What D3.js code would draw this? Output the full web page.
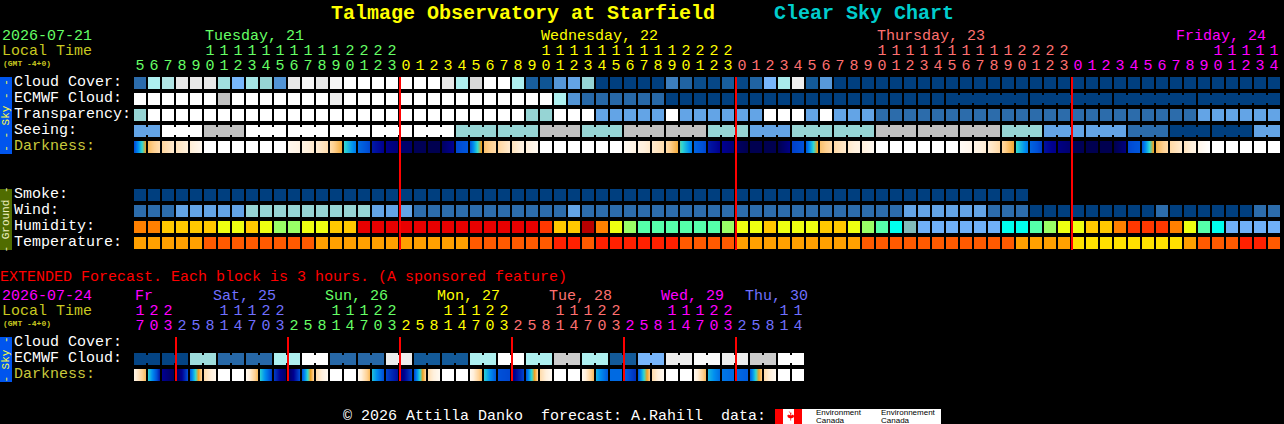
<!DOCTYPE html>
<html>
<head>
<meta charset="utf-8">
<title>Talmage Observatory at Starfield Clear Sky Chart</title>
<script src="https://cdnjs.cloudflare.com/ajax/libs/d3/7.8.5/d3.min.js"></script>
<style>
  html, body { margin: 0; background: #000; overflow: hidden; }
  svg { display: block; }
  text { font-family: "Liberation Mono", monospace; font-size: 15px; white-space: pre; }
  rect { shape-rendering: crispEdges; }
</style>
</head>
<body>
<div id="chart"></div>
<script>
// Widths and height
const WIDTH = 1284;
const HEIGHT = 424;
const STEP = 14;
const LEFT = 134;
const CELL = 12;

// Forecast hours
const hours = [5,6,7,8,9,10,11,12,13,14,15,16,17,18,19,20,21,22,23,
  0,1,2,3,4,5,6,7,8,9,10,11,12,13,14,15,16,17,18,19,20,21,22,23,
  0,1,2,3,4,5,6,7,8,9,10,11,12,13,14,15,16,17,18,19,20,21,22,23,
  0,1,2,3,4,5,6,7,8,9,10,11,12,13,14];
const extHours = [17,20,23,2,5,8,11,14,17,20,23,2,5,8,11,14,17,20,23,2,5,8,11,14,
  17,20,23,2,5,8,11,14,17,20,23,2,5,8,11,14,17,20,23,2,5,8,11,14];

// Day headings
const dayNames = ["Tuesday, 21", "Wednesday, 22", "Thursday, 23", "Friday, 24"];
const dayColumns = [5, 29, 53, 74.36];
const dayColors = ["#66ff66", "#ffff00", "#ff7070", "#ff00ff"];
const extDayNames = ["Fr", "Sat, 25", "Sun, 26", "Mon, 27", "Tue, 28", "Wed, 29", "Thu, 30"];
const extDayColumns = [0, 5.57, 13.57, 21.57, 29.57, 37.57, 43.57];
const extDayColors = ["#ff00ff", "#7070ff", "#66ff66", "#ffff00", "#ff7070", "#ff00ff", "#7070ff"];

// Sky rows, in levels of the blue to white palette
const cloudCover = [2,7,7.2,9,9,9,6.4,5,6.6,6,
  3.3,9,9.6,9,9.6,10,10,10,10,10,
  10,10,9,7,8.6,10,10,7,1.2,0.8,
  3.4,4,6,0,0,0,0,0,2.5,1.5,
  0.5,0.3,1.2,0.3,1.5,5,6.8,9.3,1,3.5,
  0,0,0,0,0,0,0,0,0,0,
  0,0,0,0,0,0,0,0,0,0,
  0,0,0,0,0,0,0,0,0,0,0,0];
const ecmwfCloud = [10,10,10,10,10,10,8,10,10,10,
  10,10,10,10,9.2,10,10,10,10,10,
  10,10,10,10,10,10,10,10,10,10,
  7,3.3,1.8,1.8,1.8,1.8,1.8,1.8,0,0,
  0,0,0,0,0,0,0,0,0,0,
  0,0,0,0,0,0,0,0,0,0,
  0,0,0,0,0,0,0,0,0,0,
  0,0,0,0,0,0,0,0,0,0,0,0];
const transparency = [6,10,10,10,10,10,10,10,10,10,
  10,10,10,10,10,10,10,10,10,10,
  10,10,10,10,10,10,10,10,6,6,
  10,10,10,4,4,4,4,4,10,4,
  4,4,4,4,4,10,10,10,4,10,
  4,4,4,2,2,2,2,2,2,2,
  2,2,2,2,2,2,2,2,2,2,
  2,2,2,2,2,2,4,4,4,4,4,4];
// Seeing is issued in blocks, one value per block
const seeingBlocks = [2,3,3,3,3,3,3,3,3,3,3,3,3,3,3,3,3,3,3,3,3,3,3,3,3,3,3,2];
const seeingValues = [4,10,8,10,10,10,10,10,6,6,8,6,8,8,6,4,6,6,8,8,8,6,4,4,2,0,0,4];
const ecmwfBlocks = [1,1,1,1,1,1,1,1,1,1,1,1,1,1,1,1,1,1,1,1,1,1,1,1,1,1,1,1,1,
  1,1,1,1,1,1,1,1,1,1,1,1,1,1,1,1,1,1,1,1,1,1,1,1,1,1,1,1,1,6,6,6,6];

// Darkness at the start and end of each block
const darkStart = [2,5.6,6.2,6.6,6.9,8,8,8,8,8,8,7.5,7.2,6.9,6.3,4,2.4,1.3,0.9,0.4,0.1,
  0,0.3,1.9,2.2,5.7,6.2,6.6,7,8,8,8,8,8,8,7.6,7.2,6.8,6.3,4.2,2.3,1.3,1,0.3,
  0,0,0,1.8,2.2,5.7,6.3,6.8,7,8,8,8,8,8,8,7.7,7.3,6.9,6.2,4,2.3,1.2,0.8,0.1,
  0,0,0,1.9,2.2,5.5,6.3,6.6,7.4,8,8,8,8,8];
const darkEnd = [4.9,6.4,6.8,7,7.5,8,8,8,8,8,8,7.2,6.8,6.4,5.3,2.7,1.9,1,0.6,0.4,0.1,
  0,1,2.1,5,6.3,6.8,7.2,7.6,8,8,8,8,8,8,7.2,6.8,6.4,5.3,2.7,1.9,1,0.6,0,
  0,0,0.8,2,5,6.3,6.8,7.2,7.6,8,8,8,8,8,8,7.4,6.9,6.3,5.2,2.7,1.8,0.9,0.5,0.1,
  0,0,0.7,2.1,5,6.3,6.8,7.2,8,8,8,8,8,8];

// Ground rows
const smoke = [0,0,0,0,0,0,0,0,0,0,0,0,0,0,0,0,0,0,0,0,0,0,0,0,0,0,0,0,0,0,0,0,
  0,0,0,0,0,0,0,0,0,0,0,0,0,0,0,0,0,0,0,0,0,0,0,0,0,0,0,0,0,0,0,0];
const wind = [2,2,2,4,4,4,4,4,6,6,6,6,6,6,6,6,6,4,4,4,2,
  2,2,2,2,2,2,2,2,2,2,4,2,2,2,2,2,2,2,2,2,2,2,2,2,2,2,2,2,2,2,2,
  2,2,2,4,4,4,4,4,4,2,2,2,0,0,0,0,0,0,0,0,0,2,0,0,0,0,0,0,2,2];
const humidity = [3,3,4,4,4,4,5,5,4,5,6,6,5,5,4,4,1,1,1,1,1,
  1,1,1,1,1,1,1,1,2,4,4,0,3,5,6,7,7,7,7,7,7,6,5,5,4,5,5,5,4,4,5,
  6,7,8,9,10,10,10,10,10,10,8,8,7,6,5,5,4,4,3,2,2,2,3,5,7,8,10,10,10,10];
const temperature = [2,2,2,2,2,1,1,1,1,1,1,1,1,2,2,2,2,2,2,2,2,
  2,2,2,1,1,1,1,1,1,0,0,1,0,0,0,0,0,0,1,1,1,1,2,2,2,2,2,2,2,2,2,
  1,1,1,1,1,1,1,1,1,1,1,2,2,2,2,3,3,3,3,3,3,3,3,2,1,1,1,0,0,1];

// Extended forecast rows
const extEcmwfBlocks = [2,2,2,2,2,2,2,2,2,2,2,2,2,2,2,2,2,2,2,2,2,2,2,2];
const extEcmwfValues = [0.2,0.2,6.3,1.8,1.8,7,10,1.8,1.8,9.2,1,1,7,10,7,8.3,7,1,5,9.2,9.8,9.2,8.3,10];
const extDarkStart = [7.2,3.8,1,0.1,2.3,6.4,8,8,7.5,3.8,1.7,0.2,2.2,6.4,8,8,7.5,3.6,1.8,0.6,2,6.5,8,8,
  7.5,3.8,2,0.8,2.2,6.4,8,8,7.5,3.4,2.4,2.2,2.2,6.4,8,8,7.5,3.5,2.6,2.4,2.3,6.4,8,8];
const extDarkEnd = [5.6,1.4,0.2,1.9,6,7.4,8,8,5.6,1.8,0.4,1.9,6,7.6,8,8,5.6,2,1.2,1.8,6,7.6,8,8,
  5.6,2.2,1.9,1.8,6,7.6,8,8,5.6,2.2,2.4,1.6,5.8,7.6,8,8,5.6,2.5,2.4,2.2,5.8,7.6,8,8];

// Colour scales
const blueScale = d3
  .scaleLinear()
  .domain(d3.range(11))
  .range(["#003f7f", "#135a99", "#2c6cab", "#4b8dcd", "#63a4e6", "#78b6fb",
    "#96d4d4", "#aef0f0", "#c0c0c0", "#e8e8e8", "#ffffff"]);
const darkScale = d3
  .scaleLinear()
  .domain(d3.range(9))
  .range(["#000050", "#000090", "#0050d8", "#0090f0", "#30d8d0", "#f0a020",
    "#ffd090", "#fff0dc", "#ffffff"]);
const humidityScale = d3
  .scaleOrdinal()
  .domain(d3.range(11))
  .range(["#b80000", "#e80000", "#ff3800", "#ff8000", "#ffc800", "#eeff11",
    "#99ff66", "#55ffaa", "#00ffee", "#80bbbb", "#70b0f8"]);
const tempScale = d3
  .scaleOrdinal()
  .domain(d3.range(4))
  .range(["#ff2000", "#ff5a00", "#ffa000", "#ffe000"]);

// x scales, 12px cells with a 2px gap
const x = d3
  .scaleBand()
  .domain(d3.range(hours.length))
  .range([LEFT, LEFT + STEP * hours.length - 2])
  .paddingInner(2 / STEP);
const xExt = d3
  .scaleBand()
  .domain(d3.range(extHours.length))
  .range([LEFT, LEFT + STEP * extHours.length - 2])
  .paddingInner(2 / STEP);
const xCol = d3.scaleLinear().domain([0, 1]).range([LEFT, LEFT + STEP]);

// SVG
const svg = d3
  .select("#chart")
  .append("svg")
  .attr("width", WIDTH)
  .attr("height", HEIGHT);

/* Puts a line of text on the chart */
function label(px, py, txt, color) {
  return svg
    .append("text")
    .attr("x", px)
    .attr("y", py)
    .attr("fill", color)
    .text(txt);
}

/* Expands blocks to the cell values */
function expand(sizes, values) {
  return sizes.flatMap((n, i) => d3.range(n).map(() => values[i]));
}

/* Cells that join to the next one, inside a block */
function joins(sizes) {
  const out = [];
  let at = 0;
  sizes.forEach((n) => {
    for (let k = 0; k < n - 1; k++) out.push(at + k);
    at += n;
  });
  return out;
}

/* Draws one row of flat cells */
function flatRow(scale, values, color, y, links) {
  const g = svg.append("g");
  g.selectAll("rect.cell")
    .data(values)
    .enter()
    .append("rect")
    .attr("class", "cell")
    .attr("x", (d, i) => scale(i))
    .attr("y", y)
    .attr("width", scale.bandwidth())
    .attr("height", CELL)
    .attr("fill", (d) => color(d));
  g.selectAll("rect.link")
    .data(links || [])
    .enter()
    .append("rect")
    .attr("class", "link")
    .attr("x", (i) => scale(i) + CELL)
    .attr("y", y + 2)
    .attr("width", STEP - CELL)
    .attr("height", CELL - 4)
    .attr("fill", (i) => color(values[i]));
}

/* Draws the darkness row, shaded along each cell */
function darkRow(scale, starts, ends, y) {
  const strip = d3.range(CELL);
  const g = svg.append("g");
  starts.forEach((s, i) => {
    const val = d3.scaleLinear().domain([0, CELL - 1]).range([s, ends[i]]);
    g.selectAll(null)
      .data(strip)
      .enter()
      .append("rect")
      .attr("x", (k) => scale(i) + k)
      .attr("y", y)
      .attr("width", 1)
      .attr("height", CELL)
      .attr("fill", (k) => darkScale(val(k)));
  });
}

/* Day number of each hour, moves on when the clock wraps */
function dayOf(list) {
  let day = 0;
  return list.map((h, i) => {
    if (i > 0 && h < list[i - 1]) day++;
    return day;
  });
}

/* Hour labels as two axes, tens over units */
function hourAxes(scale, list, colors, tensY, unitsY) {
  const days = dayOf(list);
  const draw = (y, fmt) => {
    const axis = d3
      .axisTop(scale)
      .tickSize(0)
      .tickPadding(0)
      .tickFormat(fmt);
    const g = svg
      .append("g")
      .attr("transform", `translate(0, ${y})`)
      .call(axis);
    g.select(".domain").remove();
    g.selectAll("text")
      .style("font-size", "15px")
      .attr("fill", (i) => colors[days[i]]);
  };
  draw(tensY, (i) => (list[i] >= 10 ? Math.floor(list[i] / 10) : ""));
  draw(unitsY, (i) => list[i] % 10);
}

/* Coloured band with turned text at the left */
function sideBar(top, bottom, fill, txt, color) {
  svg
    .append("rect")
    .attr("x", 0)
    .attr("y", top)
    .attr("width", 12)
    .attr("height", bottom - top)
    .attr("fill", fill);
  svg
    .append("text")
    .attr("transform", `translate(9, ${(top + bottom) / 2}) rotate(-90)`)
    .attr("text-anchor", "middle")
    .attr("fill", color)
    .style("font-size", "11px")
    .text(txt);
}

/* Red line at each midnight */
function midnightLines(scale, list, top, bottom) {
  const days = dayOf(list);
  const marks = d3.range(1, list.length).filter((i) => days[i] !== days[i - 1]);
  svg
    .append("g")
    .selectAll("rect")
    .data(marks)
    .enter()
    .append("rect")
    .attr("x", (i) => scale(i) - 1)
    .attr("y", top)
    .attr("width", 2)
    .attr("height", bottom - top)
    .attr("fill", "#ff0000");
}

// Title
label(331, 19, "Talmage Observatory at Starfield", "#ffff00")
  .style("font-size", "20px")
  .style("font-weight", "bold");
label(774, 19, "Clear Sky Chart", "#00cdcd")
  .style("font-size", "20px")
  .style("font-weight", "bold");

// Header of the main chart
label(2, 40, "2026-07-21", "#66ff66");
label(2, 55, "Local Time", "#c8c820");
label(3, 66, "(GMT -4+0)", "#c8c820").style("font-size", "8px").style("font-weight", "bold");
dayNames.forEach((d, i) => label(xCol(dayColumns[i]) + 1, 40, d, dayColors[i]));
hourAxes(x, hours, dayColors, 55, 70);

// Row labels
const skyLabels = ["Cloud Cover:", "ECMWF Cloud:", "Transparency:", "Seeing:", "Darkness:"];
skyLabels.forEach((t, i) => label(14, 86 + 16 * i, t, i === 4 ? "#c8c83c" : "#ffffff"));
const groundLabels = ["Smoke:", "Wind:", "Humidity:", "Temperature:"];
groundLabels.forEach((t, i) => label(14, 198 + 16 * i, t, "#ffffff"));

sideBar(77, 154, "#0055ee", "- - Sky - -", "#ffff40");
sideBar(189, 250, "#506c00", "- Ground -", "#f0f0c0");

// Sky rows
flatRow(x, cloudCover, blueScale, 77);
flatRow(x, ecmwfCloud, blueScale, 93, joins(ecmwfBlocks));
flatRow(x, transparency, blueScale, 109);
flatRow(x, expand(seeingBlocks, seeingValues), blueScale, 125, joins(seeingBlocks));
darkRow(x, darkStart, darkEnd, 141);

// Ground rows
flatRow(x, smoke, blueScale, 189);
flatRow(x, wind, blueScale, 205);
flatRow(x, humidity, humidityScale, 221);
flatRow(x, temperature, tempScale, 237);

midnightLines(x, hours, 77, 250);

// Extended forecast
label(0, 281, "EXTENDED Forecast. Each block is 3 hours. (A sponsored feature)", "#ff0000");
label(2, 300, "2026-07-24", "#ff00ff");
label(2, 315, "Local Time", "#c8c820");
label(3, 326, "(GMT -4+0)", "#c8c820").style("font-size", "8px").style("font-weight", "bold");
extDayNames.forEach((d, i) => label(xCol(extDayColumns[i]) + 1, 300, d, extDayColors[i]));
hourAxes(xExt, extHours, extDayColors, 315, 330);

["Cloud Cover:", "ECMWF Cloud:", "Darkness:"].forEach((t, i) =>
  label(14, 346 + 16 * i, t, i === 2 ? "#c8c83c" : "#ffffff")
);
sideBar(337, 382, "#0055ee", "- Sky -", "#ffff40");

flatRow(xExt, expand(extEcmwfBlocks, extEcmwfValues), blueScale, 353, joins(extEcmwfBlocks));
darkRow(xExt, extDarkStart, extDarkEnd, 369);
midnightLines(xExt, extHours, 337, 381);

// Footer
label(343, 420, "\u00a9 2026 Attilla Danko  forecast: A.Rahill  data:", "#ffffff");

// Environment Canada logo
svg.append("rect").attr("x", 775).attr("y", 409).attr("width", 166).attr("height", 15).attr("fill", "#ffffff");
svg.append("rect").attr("x", 775).attr("y", 409).attr("width", 8).attr("height", 15).attr("fill", "#ff0000");
svg.append("rect").attr("x", 794).attr("y", 409).attr("width", 8).attr("height", 15).attr("fill", "#ff0000");
svg
  .append("path")
  .attr("d", "M788.5 411l1.5 2 1.500-.5-.5 3 2-1 .5 1 1-.5-1 2.500-2.500 1 .2 2h-.9l.2-2-2.500-1-1-2.500 1 .5.5-1 2 1-.5-3 1.500.5z")
  .attr("fill", "#ff0000");
[["Environment", 816], ["Environnement", 881]].forEach(([t, px]) => {
  label(px, 415, t, "#000000")
    .style("font-family", "'Liberation Sans'")
    .style("font-size", "8px");
  label(px, 423, "Canada", "#000000")
    .style("font-family", "'Liberation Sans'")
    .style("font-size", "8px");
});
</script>
</body>
</html>
